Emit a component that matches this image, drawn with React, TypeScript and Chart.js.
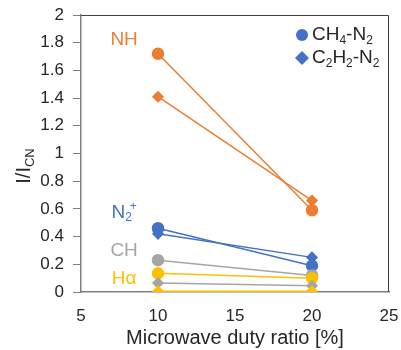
import React, { useEffect, useRef } from "react";
import { Chart, registerables } from "chart.js";

Chart.register(...registerables);

const dutyRatio = [10, 20];
const nhCH4 = [1.72, 0.59];
const nhC2H2 = [1.41, 0.66];
const n2pCH4 = [0.46, 0.19];
const n2pC2H2 = [0.42, 0.25];
const chCH4 = [0.23, 0.12];
const chC2H2 = [0.065, 0.045];
const haCH4 = [0.135, 0.1];
const haC2H2 = [0.005, 0.005];

const ORANGE = "#ED7D31";
const BLUE = "#4472C4";
const GRAY = "#A5A5A5";
const YELLOW = "#FFC000";

type Part = { t: string; sub?: boolean; sup?: boolean };
const speciesLabels: { parts: Part[]; x: number; y: number; color: string }[] = [
  { parts: [{ t: "NH" }], x: 7.8, y: 1.82, color: ORANGE },
  { parts: [{ t: "N" }, { t: "2", sub: true }, { t: "+", sup: true }], x: 7.8, y: 0.575, color: BLUE },
  { parts: [{ t: "CH" }], x: 7.8, y: 0.3, color: GRAY },
  { parts: [{ t: "Hα" }], x: 7.8, y: 0.095, color: YELLOW },
];

const legendItems: { parts: Part[]; style: string }[] = [
  { parts: [{ t: "CH" }, { t: "4", sub: true }, { t: "-N" }, { t: "2", sub: true }], style: "circle" },
  { parts: [{ t: "C" }, { t: "2", sub: true }, { t: "H" }, { t: "2", sub: true }, { t: "-N" }, { t: "2", sub: true }], style: "rectRot" },
];

const FONT = "'Liberation Sans', Arial, sans-serif";

function measureParts(ctx: CanvasRenderingContext2D, parts: Part[], size: number) {
  const small = Math.round(size * 0.65);
  let total = 0;
  let lastW = 0;
  for (const p of parts) {
    ctx.font = `${p.sub || p.sup ? small : size}px ${FONT}`;
    const w = ctx.measureText(p.t).width;
    if (p.sup && lastW) total -= lastW * 0.35;
    total += w;
    lastW = p.sub ? w : 0;
  }
  return total;
}

function drawParts(ctx: CanvasRenderingContext2D, parts: Part[], x: number, y: number, size: number, align: "left" | "center") {
  const small = Math.round(size * 0.65);
  const total = measureParts(ctx, parts, size);
  let cx = align === "center" ? x - total / 2 : x;
  ctx.textBaseline = "middle";
  ctx.textAlign = "left";
  let lastSubW = 0;
  for (const p of parts) {
    const s = p.sub || p.sup ? small : size;
    ctx.font = `${s}px ${FONT}`;
    let dy = 0;
    if (p.sub) dy = size * 0.3;
    if (p.sup) {
      dy = -size * 0.3;
      if (lastSubW) cx -= lastSubW * 0.35;
    }
    ctx.fillText(p.t, cx, y + dy);
    const w = ctx.measureText(p.t).width;
    lastSubW = p.sub ? w : 0;
    cx += w;
  }
}

const decorPlugin = {
  id: "decor",
  afterDraw(chart: any) {
    const ctx: CanvasRenderingContext2D = chart.ctx;
    const { left, right, top, bottom } = chart.chartArea;
    const xs = chart.scales.x;
    const ys = chart.scales.y;
    ctx.save();
    ctx.strokeStyle = "#404040";
    ctx.lineWidth = 1;
    ctx.beginPath();
    ctx.moveTo(left, top + 0.5);
    ctx.lineTo(right - 0.5, top + 0.5);
    ctx.lineTo(right - 0.5, bottom);
    ctx.stroke();

    for (const l of speciesLabels) {
      ctx.fillStyle = l.color;
      drawParts(ctx, l.parts, xs.getPixelForValue(l.x), ys.getPixelForValue(l.y), 19, "center");
    }

    legendItems.forEach((item, i) => {
      const mx = right - 87;
      const my = top + 20 + i * 23;
      ctx.fillStyle = BLUE;
      ctx.beginPath();
      if (item.style === "circle") {
        ctx.arc(mx, my, 6, 0, Math.PI * 2);
      } else {
        ctx.moveTo(mx, my - 7);
        ctx.lineTo(mx + 7, my);
        ctx.lineTo(mx, my + 7);
        ctx.lineTo(mx - 7, my);
        ctx.closePath();
      }
      ctx.fill();
      ctx.fillStyle = "#262626";
      drawParts(ctx, item.parts, mx + 10, my, 19, "left");
    });

    ctx.fillStyle = "#262626";
    ctx.font = `20px ${FONT}`;
    ctx.textAlign = "center";
    ctx.textBaseline = "middle";
    ctx.fillText("Microwave duty ratio [%]", (left + right) / 2, 338);

    ctx.translate(24, 166);
    ctx.rotate(-Math.PI / 2);
    ctx.fillStyle = "#262626";
    drawParts(ctx, [{ t: "I/I" }, { t: "CN", sub: true }], 0, 0, 20, "center");
    ctx.restore();
  },
};

function ds(data: number[], color: string, style: string) {
  return {
    data: data.map((v, i) => ({ x: dutyRatio[i], y: v })),
    borderColor: color,
    backgroundColor: color,
    pointBackgroundColor: color,
    pointBorderColor: color,
    pointStyle: style,
    pointRadius: style === "circle" ? 5.5 : 5,
    borderWidth: 1.5,
    showLine: true,
  };
}

function zeroPad(s: any) {
  s.paddingLeft = 0;
  s.paddingRight = 0;
  s.paddingTop = 0;
  s.paddingBottom = 0;
}

export default function App() {
  const ref = useRef<HTMLCanvasElement>(null);
  useEffect(() => {
    document.body.style.margin = "0";
    const chart = new Chart(ref.current!, {
      type: "scatter",
      data: {
        datasets: [
          ds(haC2H2, YELLOW, "rectRot"),
          ds(chC2H2, GRAY, "rectRot"),
          ds(haCH4, YELLOW, "circle"),
          ds(chCH4, GRAY, "circle"),
          ds(n2pC2H2, BLUE, "rectRot"),
          ds(n2pCH4, BLUE, "circle"),
          ds(nhC2H2, ORANGE, "rectRot"),
          ds(nhCH4, ORANGE, "circle"),
        ] as any,
      },
      options: {
        animation: false,
        responsive: false,
        layout: { padding: { left: 0, right: 12, top: 15, bottom: 0 } },
        plugins: { legend: { display: false }, tooltip: { enabled: false } },
        scales: {
          x: {
            type: "linear",
            min: 5,
            max: 25,
            afterFit: (s: any) => { s.height = 58; zeroPad(s); },
            ticks: { stepSize: 5, color: "#262626", font: { size: 17, family: FONT }, padding: 14 },
            grid: { display: false, drawTicks: false },
            border: { color: "#7F7F7F", width: 1.5 },
          },
          y: {
            min: 0,
            max: 2,
            afterFit: (s: any) => { s.width = 81; zeroPad(s); },
            ticks: {
              stepSize: 0.2,
              color: "#262626",
              font: { size: 17, family: FONT },
              padding: 9,
              callback: (v: any) => String(Math.round(Number(v) * 10) / 10),
            },
            grid: { drawOnChartArea: false, drawTicks: true, tickLength: 8, color: "#7F7F7F" },
            border: { color: "#7F7F7F", width: 1.5 },
          },
        },
      },
      plugins: [decorPlugin],
    });
    return () => chart.destroy();
  }, []);
  return <canvas ref={ref} width={401} height={350} style={{ display: "block" }} />;
}
